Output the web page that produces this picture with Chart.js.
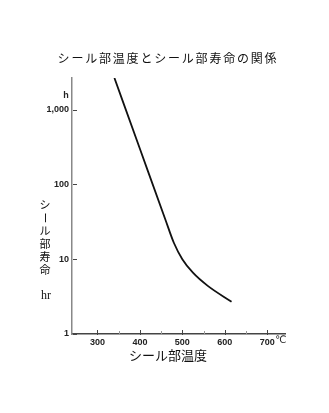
<!doctype html>
<html>
<head>
<meta charset="utf-8">
<title>シール部温度とシール部寿命の関係</title>
<script src="https://cdn.jsdelivr.net/npm/chart.js@4.4.1/dist/chart.umd.min.js"></script>
<style>
  body { margin: 0; background: #fff; }
  canvas { display: block; }
</style>
</head>
<body>
<canvas id="myChart" width="329" height="413"></canvas>
<script>
// シール部温度 (℃) と シール部寿命 (hr)
var temps = [340, 400, 460, 480, 500, 525, 560, 616];
var life  = [2650, 300, 34, 16.6, 10, 6.6, 4.4, 2.7];
var xTicks = [300, 400, 500, 600, 700];
var xMinor = [350, 450, 550, 650];
var yTicks = [1, 10, 100, 1000];

var title = 'シール部温度とシール部寿命の関係';
var xTitle = 'シール部温度';
var yTitle = ['シ', 'ー', 'ル', '部', '寿', '命'];
var yUnit = 'hr';

// 文字・目盛りの描画
var extras = {
  id: 'extras',
  afterDraw: function (chart) {
    var c = chart.ctx, x = chart.scales.x, y = chart.scales.y;
    c.save();
    c.fillStyle = '#111';
    c.textBaseline = 'middle';

    // タイトル
    c.font = '12px "Noto Sans CJK JP"';
    c.textAlign = 'center';
    c.letterSpacing = '1.8px';
    c.fillText(title, 168, 58);
    c.letterSpacing = '0px';

    // x軸タイトル
    c.font = '13px "Noto Sans CJK JP"';
    c.fillText(xTitle, 168, 355);

    // y軸タイトル (縦書き)
    c.font = '11px "Noto Sans CJK JP"';
    yTitle.forEach(function (ch, i) {
      var cy = 205 + i * 13;
      if (ch === 'ー') {
        c.save();
        c.translate(45, cy);
        c.rotate(Math.PI / 2);
        c.fillText(ch, 0, 0);
        c.restore();
      } else {
        c.fillText(ch, 45, cy);
      }
    });
    c.font = '12px "Liberation Serif"';
    c.fillText(yUnit, 46, 296);

    // 単位
    c.font = 'bold 9px "Liberation Sans"';
    c.fillStyle = '#222';
    c.fillText('h', 66, 96);
    c.textAlign = 'left';
    c.font = '10px "DejaVu Sans"';
    c.fillText('℃', x.getPixelForValue(700) + 8, 340);

    // 内向きの目盛り
    c.lineWidth = 1;
    c.strokeStyle = '#444';
    c.beginPath();
    xTicks.forEach(function (v) {
      var px = Math.round(x.getPixelForValue(v)) + 0.5;
      c.moveTo(px, y.bottom + 1);
      c.lineTo(px, y.bottom - 4);
    });
    yTicks.forEach(function (v) {
      var py = Math.round(y.getPixelForValue(v)) + 0.5;
      c.moveTo(x.left + 1, py);
      c.lineTo(x.left + 5, py);
    });
    c.stroke();
    c.strokeStyle = '#999';
    c.beginPath();
    xMinor.forEach(function (v) {
      var px = Math.round(x.getPixelForValue(v)) + 0.5;
      c.moveTo(px, y.bottom);
      c.lineTo(px, y.bottom - 3);
    });
    c.stroke();
    c.restore();
  }
};

var ctx = document.getElementById('myChart').getContext('2d');
var chart = new Chart(ctx, {
  type: 'line',
  data: {
    datasets: [{
      data: temps.map(function (t, i) { return { x: t, y: life[i] }; }),
      borderColor: '#111',
      borderWidth: 1.8,
      pointRadius: 0,
      fill: false,
      cubicInterpolationMode: 'monotone'
    }]
  },
  options: {
    responsive: false,
    animation: false,
    layout: { padding: { top: 78, right: 44, left: 0, bottom: 0 } },
    plugins: { legend: { display: false }, tooltip: { enabled: false } },
    scales: {
      x: {
        type: 'linear',
        min: 240,
        max: 742,
        afterBuildTicks: function (s) { s.ticks = xTicks.map(function (v) { return { value: v }; }); },
        afterFit: function (s) { s.height = 79; },
        grid: { display: false, drawTicks: false },
        border: { color: '#444', width: 1.5 },
        ticks: {
          padding: 3,
          color: '#222',
          font: { family: 'Liberation Sans', size: 9, weight: 'bold' },
          maxRotation: 0
        }
      },
      y: {
        type: 'logarithmic',
        min: 1,
        max: 2650,
        afterBuildTicks: function (s) { s.ticks = yTicks.map(function (v) { return { value: v }; }); },
        afterFit: function (s) { s.width = 72; },
        grid: { display: false, drawTicks: false },
        border: { color: '#888', width: 1.5 },
        ticks: {
          padding: 3,
          color: '#222',
          font: { family: 'Liberation Sans', size: 9, weight: 'bold' },
          callback: function (v) { return v.toLocaleString('en-US'); }
        }
      }
    }
  },
  plugins: [extras]
});
</script>
</body>
</html>
